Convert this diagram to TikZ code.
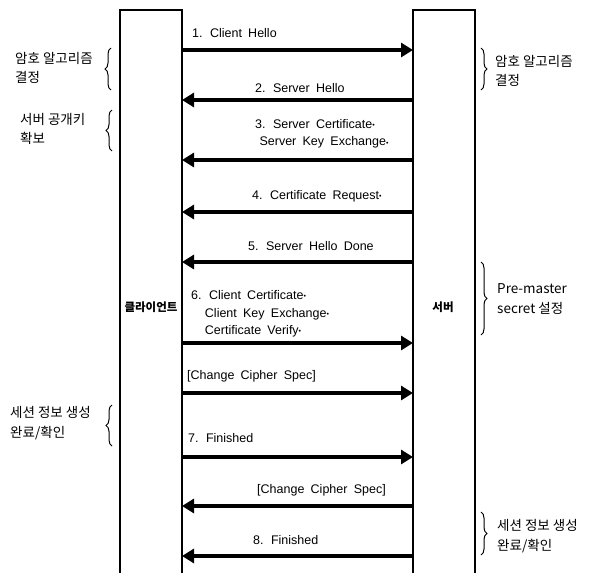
\documentclass[tikz,border=0pt]{standalone}
\usepackage{fontspec}
\setmainfont{Liberation Sans}[WordSpace=1.8]
\newfontfamily\kr{Noto Sans CJK KR}
\usetikzlibrary{arrows.meta,decorations.pathreplacing}

\newcommand{\opt}{{\scriptsize\raisebox{0.25ex}{•}}}

\begin{document}
\begin{tikzpicture}[
  x=1pt, y=-1pt,
  col/.style={line width=1.5pt},
  msg/.style={line width=3.4pt, -{Triangle[length=12pt, width=14pt]}},
  lbl/.style={anchor=west, align=left, font=\fontsize{12.5}{17.5}\selectfont, inner sep=0pt},
  who/.style={font=\kr\bfseries\fontsize{11.5}{13}\selectfont, inner sep=0pt},
  note/.style={anchor=west, align=left, font=\kr\fontsize{13.5}{19.5}\selectfont, inner sep=0pt},
  brc/.style={decorate, decoration={brace, amplitude=6pt}, line width=1pt}
]
\useasboundingbox (0,0) rectangle (592,573);

% columns
\draw[col] (120,573) |- (182,10) -- (182,573);
\draw[col] (413,573) |- (475,10) -- (475,573);
\node[who] (client) at (151,307) {클라이언트};
\node[who] (server) at (443,307) {서버};

% message end points
\foreach \n/\y in {1/50, 2/100, 3/160, 4/212, 5/262, 6/343, 7/393, 8/457, 9/506, 10/556} {
  \coordinate (c\n) at (182,\y);
  \coordinate (s\n) at (413,\y);
}

% client -> server
\draw[msg] (c1) -- (s1);
\draw[msg] (c6) -- (s6);
\draw[msg] (c7) -- (s7);
\draw[msg] (c8) -- (s8);
% server -> client
\draw[msg] (s2) -- (c2);
\draw[msg] (s3) -- (c3);
\draw[msg] (s4) -- (c4);
\draw[msg] (s5) -- (c5);
\draw[msg] (s9) -- (c9);
\draw[msg] (s10) -- (c10);

% message labels
\node[lbl] (m1) at (192,33) {1. Client Hello};
\node[lbl] (m2) at (255,88) {2. Server Hello};
\node[lbl] (m3) at (255,134) {3. Server Certificate\opt\\\hspace*{0.35em}Server Key Exchange\opt};
\node[lbl] (m4) at (252,196) {4. Certificate Request\opt};
\node[lbl] (m5) at (248,246) {5. Server Hello Done};
\node[lbl] (m6) at (191,314) {6. Client Certificate\opt\\\hspace*{1.1em}Client Key Exchange\opt\\\hspace*{1.1em}Certificate Verify\opt};
\node[lbl] (m7) at (187,376) {[Change Cipher Spec]};
\node[lbl] (m8) at (188,438) {7. Finished};
\node[lbl] (m9) at (257,490) {[Change Cipher Spec]};
\node[lbl] (m10) at (253,540) {8. Finished};

% client side notes
\coordinate (lb1a) at (111,90);  \coordinate (lb1b) at (111,48);
\coordinate (lb2a) at (112,151); \coordinate (lb2b) at (112,110);
\coordinate (lb3a) at (112,446); \coordinate (lb3b) at (112,405);
\draw[brc] (lb1a) -- (lb1b);
\draw[brc] (lb2a) -- (lb2b);
\draw[brc] (lb3a) -- (lb3b);
\node[note] (n1) at (15,68) {암호 알고리즘\\결정};
\node[note] (n2) at (20,129) {서버 공개키\\확보};
\node[note] (n3) at (10,423) {세션 정보 생성\\완료/확인};

% server side notes
\coordinate (rb1a) at (481,48);  \coordinate (rb1b) at (481,90);
\coordinate (rb2a) at (481,262); \coordinate (rb2b) at (481,335);
\coordinate (rb3a) at (481,512); \coordinate (rb3b) at (481,555);
\draw[brc] (rb1a) -- (rb1b);
\draw[brc] (rb2a) -- (rb2b);
\draw[brc] (rb3a) -- (rb3b);
\node[note] (n4) at (495,71) {암호 알고리즘\\결정};
\node[note] (n5) at (497,299) {Pre-master\\secret 설정};
\node[note] (n6) at (497,536) {세션 정보 생성\\완료/확인};
\end{tikzpicture}
\end{document}
